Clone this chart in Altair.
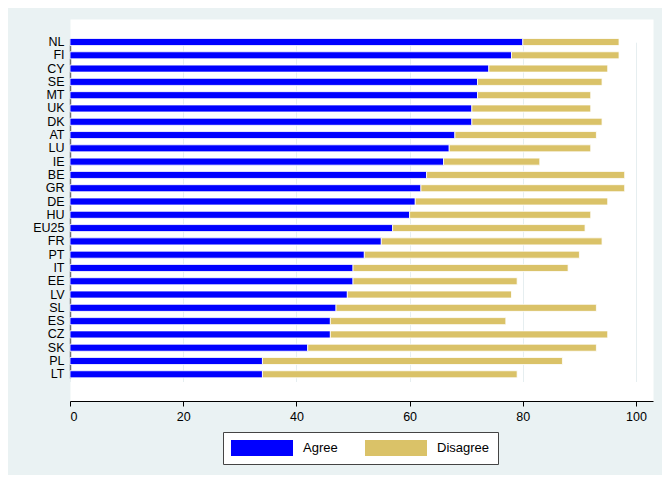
import altair as alt
import pandas as pd

countries = ["NL", "FI", "CY", "SE", "MT", "UK", "DK", "AT", "LU", "IE", "BE", "GR", "DE",
             "HU", "EU25", "FR", "PT", "IT", "EE", "LV", "SL", "ES", "CZ", "SK", "PL", "LT"]
agree = [80, 78, 74, 72, 72, 71, 71, 68, 67, 66, 63, 62, 61,
         60, 57, 55, 52, 50, 50, 49, 47, 46, 46, 42, 34, 34]
disagree = [17, 19, 21, 22, 20, 21, 23, 25, 25, 17, 35, 36, 34,
            32, 34, 39, 38, 38, 29, 29, 46, 31, 49, 51, 53, 45]
series = ["Agree", "Disagree"]
colors = ["#0000FF", "#DAC268"]
x_ticks = [0, 20, 40, 60, 80, 100]

rows = []
for c, a, d in zip(countries, agree, disagree):
    rows.append({"country": c, "response": "Agree", "value": a, "ord": 0})
    rows.append({"country": c, "response": "Disagree", "value": d, "ord": 1})
df = pd.DataFrame(rows)

FONT = "Liberation Sans"

chart = alt.Chart(df).mark_bar(stroke="white", strokeWidth=0.8).encode(
    y=alt.Y("country:N", sort=countries, title=None,
            scale=alt.Scale(range=[19.5, 358.8], paddingInner=0.47, paddingOuter=0),
            axis=alt.Axis(ticks=False, grid=False, domainColor="#707070", domainWidth=1.5,
                          labelPadding=6, labelFontSize=12.5, labelColor="black", labelFont=FONT)),
    x=alt.X("value:Q", stack="zero", title=None,
            scale=alt.Scale(domain=[0, 103], nice=False, zero=True),
            axis=alt.Axis(values=x_ticks, format="d", grid=True, gridColor="#E6EEF0", gridWidth=1,
                          domainColor="black", domainWidth=1, tickColor="black", tickSize=5,
                          labelPadding=4, labelFontSize=12.5, labelColor="black", labelFont=FONT)),
    color=alt.Color("response:N", scale=alt.Scale(domain=series, range=colors),
                    legend=alt.Legend(title=None, orient="none", legendX=153, legendY=413,
                                      direction="horizontal", columns=2, columnPadding=27,
                                      symbolType="M-1,-0.258H1V0.258H-1Z", symbolSize=3844,
                                      symbolStrokeWidth=0, clipHeight=16, labelOffset=10,
                                      labelFontSize=13, labelFont=FONT, labelColor="black",
                                      padding=8, fillColor="white", strokeColor="#444444",
                                      cornerRadius=0)),
    order=alt.Order("ord:Q"),
).properties(
    width=583, height=382,
    padding={"left": 62, "top": 11, "right": 9, "bottom": 74},
    autosize=alt.AutoSizeParams(type="none"),
    background="#EAF2F3",
).configure_view(fill="white", strokeOpacity=0)

chart.save("out.html", embed_options={"renderer": "svg", "actions": False})
